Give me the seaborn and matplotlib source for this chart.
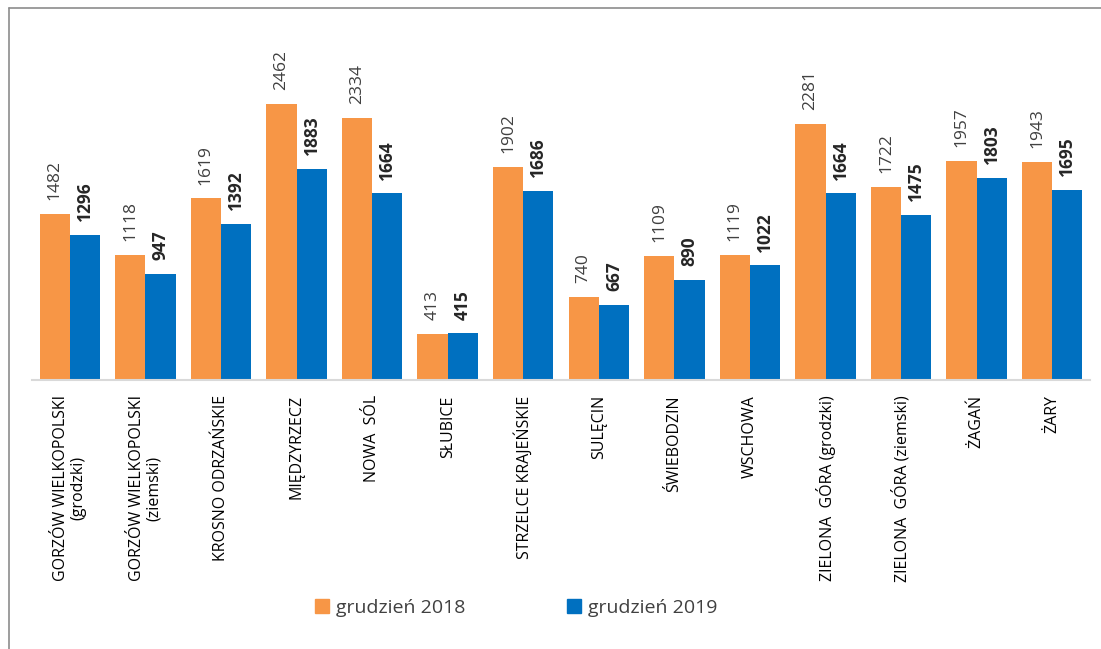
"""Grouped bar chart: grudzień 2018 vs grudzień 2019 by powiat."""
import matplotlib
matplotlib.use("Agg")
import matplotlib.pyplot as plt
from matplotlib.lines import Line2D
from matplotlib.patches import Patch
import pandas as pd
import seaborn as sns

POWIATY = [
    "GORZÓW WIELKOPOLSKI\n(grodzki)",
    "GORZÓW WIELKOPOLSKI\n(ziemski)",
    "KROSNO ODRZAŃSKIE",
    "MIĘDZYRZECZ",
    "NOWA  SÓL",
    "SŁUBICE",
    "STRZELCE KRAJEŃSKIE",
    "SULĘCIN",
    "ŚWIEBODZIN",
    "WSCHOWA",
    "ZIELONA  GÓRA (grodzki)",
    "ZIELONA  GÓRA (ziemski)",
    "ŻAGAŃ",
    "ŻARY",
]
GRUDZIEN_2018 = [1482, 1118, 1619, 2462, 2334, 413, 1902, 740, 1109, 1119, 2281, 1722, 1957, 1943]
GRUDZIEN_2019 = [1296, 947, 1392, 1883, 1664, 415, 1686, 667, 890, 1022, 1664, 1475, 1803, 1695]
SERIES = ["grudzień 2018", "grudzień 2019"]
COLORS = {"grudzień 2018": "#F79646", "grudzień 2019": "#0070C0"}

df = pd.DataFrame(
    {
        "powiat": POWIATY * 2,
        "liczba": GRUDZIEN_2018 + GRUDZIEN_2019,
        "okres": [SERIES[0]] * len(POWIATY) + [SERIES[1]] * len(POWIATY),
    }
)

sns.set_theme(style="white")
plt.rcParams["font.family"] = ["Open Sans", "DejaVu Sans"]

W, H = 1101, 649
fig = plt.figure(figsize=(W / 100, H / 100), dpi=100, facecolor="white")
ax = fig.add_axes([32 / W, 1 - 380 / H, (1090 - 32) / W, (380 - 30) / H])

sns.barplot(
    data=df, x="powiat", y="liczba", hue="okres", palette=COLORS,
    width=0.8, saturation=1, ax=ax, legend=False, linewidth=0,
)

ax.set_xlim(-0.5, len(POWIATY) - 0.5)
ax.set_ylim(0, 3122)
ax.set_yticks([])
ax.set_xlabel("")
ax.set_ylabel("")
for side in ("top", "right", "left"):
    ax.spines[side].set_visible(False)
ax.spines["bottom"].set_color("#d9d9d9")
ax.spines["bottom"].set_linewidth(1.5)
ax.tick_params(axis="x", length=0, pad=11)
ax.set_xticks(range(len(POWIATY)))
ax.set_xticklabels(POWIATY, rotation=90, ha="center", va="top",
                   multialignment="center", fontsize=11.5, color="#000000",
                   linespacing=1.1)

ax.bar_label(ax.containers[0], padding=10, rotation=90, fontsize=12.5,
             color="#404040", clip_on=False)
ax.bar_label(ax.containers[1], padding=10, rotation=90, fontsize=12.5,
             color="#262626", fontweight="bold", clip_on=False)

handles = [Patch(color=COLORS[s]) for s in SERIES]
fig.legend(handles, SERIES, loc="center", bbox_to_anchor=(516 / W, 1 - 608 / H),
           ncol=2, frameon=False, fontsize=14, handlelength=0.75, handleheight=0.75,
           handletextpad=0.35, columnspacing=5.2, labelcolor="#404040")

# outer frame (left and top edges visible in the original)
fig.add_artist(Line2D([9 / W, 9 / W], [0, 1 - 8 / H], color="#8c8c8c", linewidth=1.2))
fig.add_artist(Line2D([9 / W, 1], [1 - 8 / H, 1 - 8 / H], color="#8c8c8c", linewidth=1.2))

fig.savefig("out.png", dpi=100, facecolor=fig.get_facecolor())
